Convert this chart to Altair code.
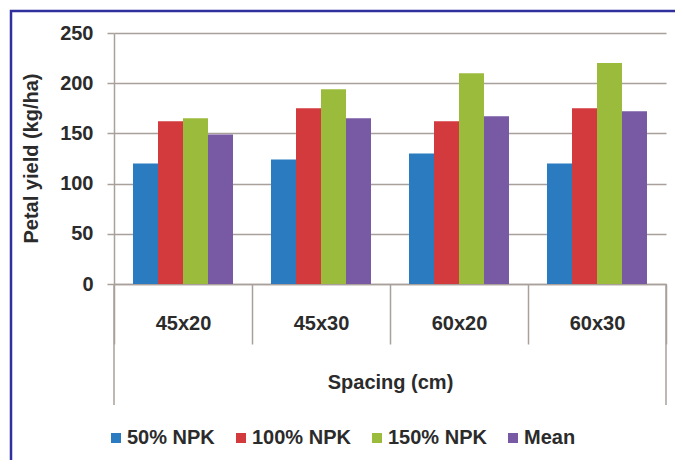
import altair as alt
import pandas as pd

spacing = ["45x20", "45x30", "60x20", "60x30"]
series = ["50% NPK", "100% NPK", "150% NPK", "Mean"]
npk50 = [120, 124, 130, 120]
npk100 = [162, 175, 162, 175]
npk150 = [165, 194, 210, 220]
mean_vals = [149, 165, 167, 172]
colors = ["#2b7bc0", "#d23a3e", "#9bbb3c", "#7859a3"]
y_ticks = [0, 50, 100, 150, 200, 250]

rows = []
for s, vals in zip(series, [npk50, npk100, npk150, mean_vals]):
    for sp, v in zip(spacing, vals):
        rows.append({"Spacing": sp, "Series": s, "Yield": v})
df = pd.DataFrame(rows)

FONT = "Liberation Sans"
GRID = "#a9a09b"
TXT = "#2b2b2b"
W, H = 552, 251

bars = alt.Chart(df).mark_bar().encode(
    x=alt.X(
        "Spacing:N",
        sort=spacing,
        scale=alt.Scale(paddingInner=0, paddingOuter=0),
        axis=alt.Axis(
            title="Spacing (cm)",
            labelAngle=0,
            tickBand="extent",
            tickSize=60,
            tickColor=GRID,
            tickWidth=1.5,
            domainColor=GRID,
            domainWidth=1.5,
            labelPadding=-21,
            labelBaseline="middle",
            labelFont=FONT,
            labelFontSize=20,
            labelFontWeight="bold",
            labelColor=TXT,
            titleFont=FONT,
            titleFontSize=20,
            titleFontWeight="bold",
            titleColor=TXT,
            titleX=276,
            titleY=98,
            titleBaseline="middle",
            grid=False,
        ),
    ),
    xOffset=alt.XOffset(
        "Series:N", sort=series, scale=alt.Scale(paddingInner=0, paddingOuter=0.76)
    ),
    y=alt.Y(
        "Yield:Q",
        scale=alt.Scale(domain=[0, 250], nice=False),
        axis=alt.Axis(
            values=y_ticks,
            title="Petal yield (kg/ha)",
            grid=True,
            gridColor=GRID,
            gridWidth=1.5,
            domainColor=GRID,
            domainWidth=1.5,
            tickColor=GRID,
            tickWidth=1.5,
            tickSize=7,
            labelPadding=14,
            labelFont=FONT,
            labelFontSize=20,
            labelFontWeight="bold",
            labelColor=TXT,
            titleFont=FONT,
            titleFontSize=20,
            titleFontWeight="bold",
            titleColor=TXT,
            titleX=-83,
            titleY=125,
            titleAlign="center",
            titleBaseline="middle",
        ),
    ),
    color=alt.Color(
        "Series:N",
        sort=series,
        scale=alt.Scale(domain=series, range=colors),
        legend=alt.Legend(
            title=None,
            orient="none",
            direction="horizontal",
            legendX=-8,
            legendY=395,
            symbolType="square",
            symbolSize=100,
            symbolStrokeWidth=0,
            labelOffset=1,
            columnPadding=16,
            labelFont=FONT,
            labelFontSize=20,
            labelFontWeight="bold",
            labelColor=TXT,
            padding=0,
        ),
    ),
)

one = pd.DataFrame({"k": [0]})
frame = alt.Chart(one).mark_rect(filled=False, stroke="#2f2f9e", strokeWidth=2.5).encode(
    x=alt.value(-103), x2=alt.value(566), y=alt.value(-22), y2=alt.value(700)
)
left_line = alt.Chart(one).mark_rule(color=GRID, strokeWidth=1.5).encode(
    x=alt.value(0), y=alt.value(H), y2=alt.value(372)
)
right_line = alt.Chart(one).mark_rule(color=GRID, strokeWidth=1.5).encode(
    x=alt.value(W), y=alt.value(H), y2=alt.value(372)
)

chart = (
    alt.layer(bars, left_line, right_line, frame)
    .properties(
        width=W,
        height=H,
        autosize=alt.AutoSizeParams(type="none"),
        padding={"left": 106, "top": 25, "right": 9, "bottom": 176},
        background="white",
    )
    .configure_view(stroke=None)
)

chart.save("out.html", embed_options={"renderer": "svg", "actions": False})
